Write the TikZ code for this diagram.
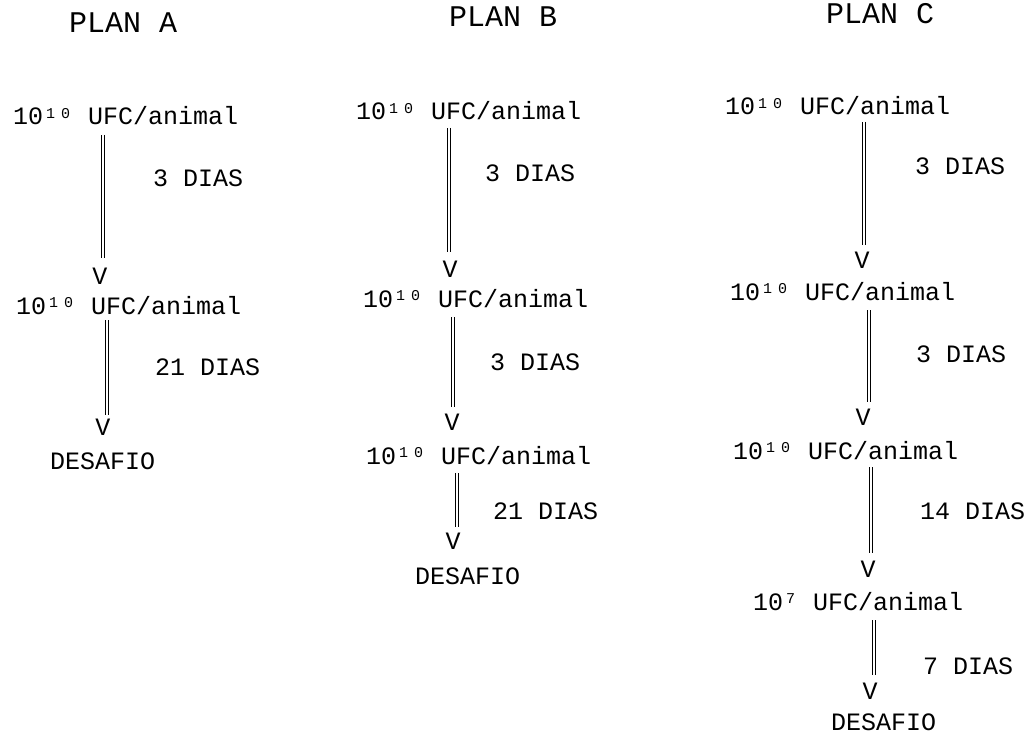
\documentclass[tikz,border=0pt]{standalone}
\usepackage{fontspec}
\setmainfont{Liberation Mono}
\newcommand\mysup[1]{\makebox[15pt][c]{\raisebox{6.8pt}{\fontsize{15}{15}\selectfont #1}}}
\begin{document}
\begin{tikzpicture}[x=1pt,y=-1pt,
  txt/.style={anchor=base west,inner sep=0pt,font=\fontsize{25}{25}\selectfont},
  ttl/.style={anchor=base west,inner sep=0pt,font=\fontsize{30}{30}\selectfont},
  vtip/.style={anchor=base,inner sep=0pt,font=\fontsize{25}{25}\selectfont},
  dbl/.style={draw=black,double=white,double distance=2.4pt,line width=1pt}]
\useasboundingbox (0,0) rectangle (1036,738);
\fill[white] (0,0) rectangle (1036,738);
% ---------- titles
\node[ttl] (tA) at (69,33) {PLAN A};
\node[ttl] (tB) at (449,27) {PLAN B};
\node[ttl] (tC) at (826,24) {PLAN C};
% ---------- PLAN A
\node[txt] (a1) at (13,125) {10\mysup{1}\mysup{0} UFC/animal};
\node[txt] (ad1) at (153,187) {3 DIAS};
\node[vtip] (av1) at (100,284) {V};
\node[txt] (a2) at (16,314) {10\mysup{1}\mysup{0} UFC/animal};
\node[txt] (ad2) at (155,375) {21 DIAS};
\node[vtip] (av2) at (103,435) {V};
\node[txt] (a3) at (50,469) {DESAFIO};
\coordinate (as1) at (103,135); \coordinate (ae1) at (103,258);
\coordinate (as2) at (107,320); \coordinate (ae2) at (107,415);
\draw[dbl] (as1) -- (ae1);
\draw[dbl] (as2) -- (ae2);
% ---------- PLAN B
\node[txt] (b1) at (356,120) {10\mysup{1}\mysup{0} UFC/animal};
\node[txt] (bd1) at (485,182) {3 DIAS};
\node[vtip] (bv1) at (450,277) {V};
\node[txt] (b2) at (363,307) {10\mysup{1}\mysup{0} UFC/animal};
\node[txt] (bd2) at (490,370) {3 DIAS};
\node[vtip] (bv2) at (452,430) {V};
\node[txt] (b3) at (366,464) {10\mysup{1}\mysup{0} UFC/animal};
\node[txt] (bd3) at (493,519) {21 DIAS};
\node[vtip] (bv3) at (453,549) {V};
\node[txt] (b4) at (415,584) {DESAFIO};
\coordinate (bs1) at (449,128); \coordinate (be1) at (449,252);
\coordinate (bs2) at (453,317); \coordinate (be2) at (453,407);
\coordinate (bs3) at (457,473); \coordinate (be3) at (457,527);
\draw[dbl] (bs1) -- (be1);
\draw[dbl] (bs2) -- (be2);
\draw[dbl] (bs3) -- (be3);
% ---------- PLAN C
\node[txt] (c1) at (725,115) {10\mysup{1}\mysup{0} UFC/animal};
\node[txt] (cd1) at (915,175) {3 DIAS};
\node[vtip] (cv1) at (862,269) {V};
\node[txt] (c2) at (730,300) {10\mysup{1}\mysup{0} UFC/animal};
\node[txt] (cd2) at (916,362) {3 DIAS};
\node[vtip] (cv2) at (863,425) {V};
\node[txt] (c3) at (733,459) {10\mysup{1}\mysup{0} UFC/animal};
\node[txt] (cd3) at (920,519) {14 DIAS};
\node[vtip] (cv3) at (868,577) {V};
\node[txt] (c4) at (753,610) {10\mysup{7} UFC/animal};
\node[txt] (cd4) at (923,674) {7 DIAS};
\node[vtip] (cv4) at (870,699) {V};
\node[txt] (c5) at (831,730) {DESAFIO};
\coordinate (cs1) at (864,122); \coordinate (ce1) at (864,245);
\coordinate (cs2) at (869,310); \coordinate (ce2) at (869,402);
\coordinate (cs3) at (871,467); \coordinate (ce3) at (871,553);
\coordinate (cs4) at (874,620); \coordinate (ce4) at (874,675);
\draw[dbl] (cs1) -- (ce1);
\draw[dbl] (cs2) -- (ce2);
\draw[dbl] (cs3) -- (ce3);
\draw[dbl] (cs4) -- (ce4);
\end{tikzpicture}
\end{document}
